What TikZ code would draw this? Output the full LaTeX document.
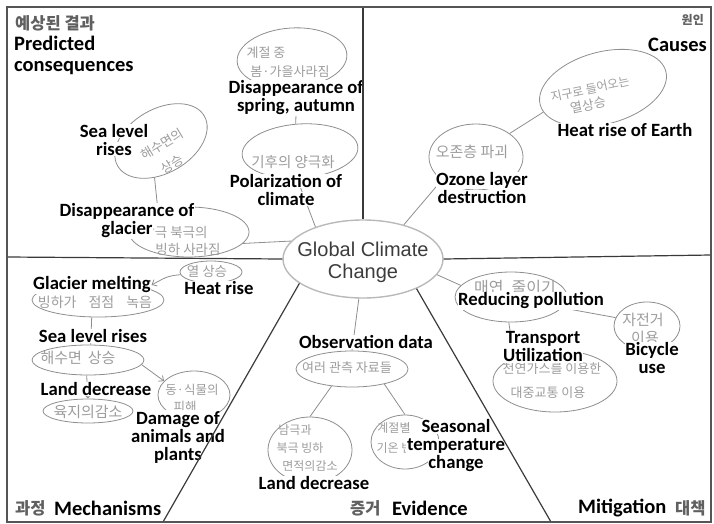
\documentclass[tikz,border=0pt]{standalone}
\usepackage{fontspec}
\usetikzlibrary{shapes.geometric,arrows.meta}
\newfontfamily\calfont{Carlito}
\newfontfamily\korfont{Noto Sans CJK KR}
\newfontfamily\arifont{Liberation Sans}
\definecolor{pencil}{HTML}{8E8E8E}
\definecolor{pentext}{HTML}{9C9C9C}
\definecolor{ttlgray}{HTML}{606060}
\definecolor{rulegray}{HTML}{3A3A3A}
\definecolor{framegray}{HTML}{555555}
\definecolor{centertext}{HTML}{3C3C3C}
\newcommand\wbx[1]{{\setlength{\fboxsep}{0.6pt}\colorbox{white}{#1}}}
\begin{document}
\begin{tikzpicture}[x=1pt,y=-1pt,
  bub/.style={ellipse,draw=pencil,line width=0.8pt,inner sep=0pt},
  conn/.style={draw=pencil,line width=0.8pt},
  divline/.style={draw=rulegray,line width=1.2pt},
  lab/.style={font=\calfont\bfseries\fontsize{18.7}{18}\selectfont,align=center,inner sep=0pt},
  ttl/.style={font=\calfont\bfseries\fontsize{20.5}{21}\selectfont,inner sep=0pt},
  ktl/.style={font=\korfont\bfseries\fontsize{16.5}{18}\selectfont,text=ttlgray,inner sep=0pt},
  ktlsmall/.style={font=\korfont\bfseries\fontsize{12}{14}\selectfont,text=ttlgray,inner sep=0pt},
  kor/.style={font=\korfont\fontsize{13}{15}\selectfont,text=pentext,inner sep=0pt},
  barb/.style={-{Straight Barb[length=4pt,width=7pt]}}
]
\useasboundingbox (0,0) rectangle (714,524);

% ---- ellipses ----
\node[bub,minimum width=160pt,minimum height=78pt,draw=gray!55,line width=1.4pt] (gcc) at (363,259) {};
\node[font=\arifont\fontsize{20}{22}\selectfont,text=centertext,align=center,inner sep=0pt] (gcct) at (363,262) {Global Climate\\Change};
\node[bub,minimum width=100pt,minimum height=64pt,rotate=30] (sea) at (161,141) {};
\node[bub,minimum width=110pt,minimum height=60pt,rotate=4] (spr) at (292,58) {};
\node[bub,minimum width=116pt,minimum height=54pt,rotate=4] (pol) at (300,151) {};
\node[bub,minimum width=120pt,minimum height=50pt] (glac) at (189,232) {};
\node[bub,minimum width=94pt,minimum height=66pt] (oz) at (476,157) {};
\node[bub,minimum width=130pt,minimum height=72pt,rotate=15] (he) at (603,88) {};
\node[bub,minimum width=62pt,minimum height=22pt] (hr) at (211,272) {};
\node[bub,minimum width=132pt,minimum height=34pt] (gm) at (98,300) {};
\node[bub,minimum width=112pt,minimum height=30pt] (sl) at (88,360) {};
\node[bub,minimum width=90pt,minimum height=24pt] (ld) at (88,411) {};
\node[bub,minimum width=72pt,minimum height=48pt] (dm) at (194,395) {};
\node[bub,minimum width=112pt,minimum height=36pt] (obs) at (352,369) {};
\node[bub,minimum width=84pt,minimum height=66pt] (el) at (310,450) {};
\node[bub,minimum width=68pt,minimum height=54pt] (se) at (405,442) {};
\node[bub,minimum width=112pt,minimum height=50pt] (rp) at (511,297) {};
\node[bub,minimum width=66pt,minimum height=48pt] (bc) at (647,326) {};
\node[bub,minimum width=124pt,minimum height=62pt] (tr) at (555,381) {};

% ---- connectors ----
\draw[conn] (sea.-130) -- (glac.145);
\draw[conn] (glac.-12) -- (gcc.166);
\draw[conn] (spr.-85) -- (pol.95);
\draw[conn] (pol.-100) -- (gcc.146);
\draw[conn] (gcc.40) -- (oz.214);
\draw[conn] (oz.35) -- (he.187);
\draw[conn] (gcc.-12) -- (rp.167);
\draw[conn] (rp.-12) -- (bc.165);
\draw[conn] (rp.-95) -- (tr.150);
\draw[conn] (gcc.-96) -- (obs.north);
\draw[conn] (obs.-140) -- (el.north);
\draw[conn] (obs.-25) -- (se.north);
\draw[conn] (gm.-110) -- (sl.80);
\draw[conn,barb] (sl.-95) -- (ld.north);
\draw[conn,barb] (sl.-5) -- (dm.155);

% ---- handwritten Korean ----
\node[kor,rotate=31] (seaK1) at (162,144) {해수면의};
\node[kor,rotate=31] (seaK2) at (172,164) {상승};
\node[kor] (sprK1) at (266,53) {계절 중};
\node[kor] (sprK2) at (290,72) {봄·가을사라짐};
\node[kor,font=\korfont\fontsize{14.5}{16}\selectfont] (polK) at (293,162) {기후의 양극화};
\node[kor,font=\korfont\fontsize{13.5}{15}\selectfont] (glacK1) at (175,232) {남극 북극의};
\node[kor,font=\korfont\fontsize{13.5}{15}\selectfont] (glacK2) at (188,249) {빙하 사라짐};
\node[kor,font=\korfont\fontsize{13.5}{15}\selectfont] (hrK) at (207,271) {열 상승};
\node[kor,font=\korfont\fontsize{14}{16}\selectfont] (gmK) at (95,302) {빙하가\hspace{12pt}점점\hspace{12pt}녹음};
\node[kor,font=\korfont\fontsize{15}{17}\selectfont] (slK) at (78,358) {해수면\hspace{6pt}상승};
\node[kor,font=\korfont\fontsize{15}{17}\selectfont] (ldK) at (88,412) {육지의감소};
\node[kor,font=\korfont\fontsize{12.5}{14}\selectfont] (dmK1) at (192,390) {동·식물의};
\node[kor,font=\korfont\fontsize{12.5}{14}\selectfont] (dmK2) at (185,407) {피해};
\node[kor,font=\korfont\fontsize{15}{17}\selectfont] (ozK) at (472,152) {오존층 파괴};
\node[kor,font=\korfont\fontsize{12}{14}\selectfont,rotate=12] (heK1) at (590,89) {지구로 들어오는};
\node[kor,rotate=12] (heK2) at (588,105) {열상승};
\node[kor] (obsK) at (347,368) {여러 관측 자료들};
\node[kor,font=\korfont\fontsize{12}{14}\selectfont] (elK1) at (295,430) {남극과};
\node[kor,font=\korfont\fontsize{12}{14}\selectfont] (elK2) at (300,448) {북극 빙하};
\node[kor,font=\korfont\fontsize{12}{14}\selectfont] (elK3) at (310,466) {면적의감소};
\node[kor,font=\korfont\fontsize{12}{14}\selectfont] (seK1) at (394,428) {계절별};
\node[kor,font=\korfont\fontsize{12}{14}\selectfont] (seK2) at (400,448) {기온 변화};
\node[kor,font=\korfont\fontsize{16}{18}\selectfont] (rpK) at (515,288) {매연\hspace{8pt}줄이기};
\node[kor,font=\korfont\fontsize{15}{17}\selectfont] (bcK1) at (643,320) {자전거};
\node[kor,font=\korfont\fontsize{15}{17}\selectfont] (bcK2) at (645,338) {이용};
\node[kor] (trK1) at (552,369) {천연가스를 이용한};
\node[kor] (trK2) at (548,393) {대중교통 이용};

% ---- English labels ----
\node[lab] (seaL) at (114,140) {\wbx{Sea level}\\\wbx{rises}};
\node[lab] (sprL) at (296,98) {\wbx{Disappearance of}\\\wbx{spring, autumn}};
\node[lab] (polL) at (286,190) {\wbx{Polarization of}\\\wbx{climate}};
\node[lab] (glacL) at (127,221) {\wbx{Disappearance of}\\\wbx{glacier}};
\node[lab] (hrL) at (219,288) {\wbx{Heat rise}};
\node[lab] (gmL) at (92,285) {\wbx{Glacier melting}};
\node[lab] (slL) at (93,336) {\wbx{Sea level rises}};
\node[lab] (ldL) at (96,389) {\wbx{Land decrease}};
\node[lab] (dmL) at (178,437) {\wbx{Damage of}\\\wbx{animals and}\\\wbx{plants}};
\node[lab] (obsL) at (366,342) {\wbx{Observation data}};
\node[lab] (elL) at (314,483) {\wbx{Land decrease}};
\node[lab] (seL) at (456,446) {\wbx{Seasonal}\\\wbx{temperature}\\\wbx{change}};
\node[lab] (rpL) at (531,301) {\wbx{Reducing pollution}};
\node[lab] (bcL) at (652,358) {\wbx{Bicycle}\\\wbx{use}};
\node[lab] (trL) at (543,347) {\wbx{Transport}\\\wbx{Utilization}};
\node[lab] (ozL) at (482,188) {\wbx{Ozone layer}\\\wbx{destruction}};
\node[lab] (heL) at (625,130) {\wbx{Heat rise of Earth}};

\draw[conn,barb] (hr.185) .. controls (168,276) .. (gmL.east);

% ---- quadrant titles ----
\node[ktl,anchor=west] (pcK) at (15,23) {예상된 결과};
\node[ttl,align=left,anchor=west] (pcL) at (14,55) {Predicted\\consequences};
\node[ktlsmall,anchor=east] (caK) at (704,20) {원인};
\node[ttl,anchor=east] (caL) at (707,45) {Causes};
\node[ktl,anchor=west] (meK) at (15,508) {과정};
\node[ttl,anchor=west] (meL) at (54,508) {Mechanisms};
\node[ktl,anchor=west] (evK) at (350,508) {증거};
\node[ttl,anchor=west] (evL) at (392,508) {Evidence};
\node[ttl,anchor=west] (miL) at (578,508) {Mitigation};
\node[ktl,anchor=west] (miK) at (675,508) {대책};

% ---- dividers and frame ----
\coordinate (ftop) at (363,7);
\coordinate (fleft) at (7,257);
\coordinate (fright) at (711,255);
\coordinate (fbl) at (163,522);
\coordinate (fbr) at (551,522);
\draw[divline] (ftop) -- (gcc.north);
\draw[divline] (fleft) -- (gcc.west);
\draw[divline] (gcc.east) -- (fright);
\draw[divline] (gcc.201) -- (fbl);
\draw[divline] (gcc.-29) -- (fbr);
\draw[draw=framegray,line width=1.8pt] (7,7) rectangle (711,522);
\end{tikzpicture}
\end{document}
